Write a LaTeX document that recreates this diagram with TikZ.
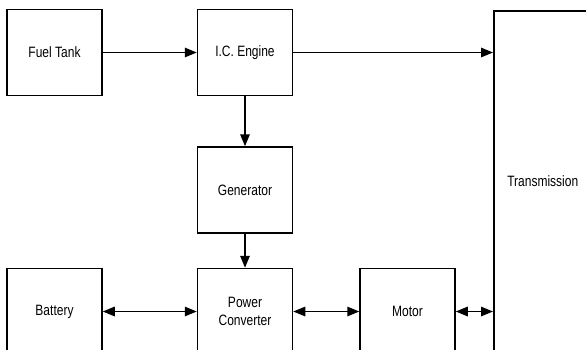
\documentclass[tikz,border=0pt]{standalone}
\usepackage{fontspec}
\setmainfont{Liberation Sans}[FakeStretch=0.8]
\usetikzlibrary{arrows.meta,positioning}

\begin{document}
\begin{tikzpicture}[
x=1pt, y=-1pt,
node distance=94pt,
block/.style={draw, line width=1.5pt, minimum width=95pt, minimum height=86pt, inner sep=2pt, align=center, font=\fontsize{15}{18}\selectfont},
arrow/.style={-{Triangle[length=12pt, width=9.5pt]}, line width=1.5pt},
dblarrow/.style={{Triangle[length=12pt, width=9.5pt]}-{Triangle[length=12pt, width=9.5pt]}, line width=1.5pt}
]
\clip (0,0) rectangle (586,349);
\node[block] (fuel) at (54.5,52.5) {Fuel Tank};
\node[block, right=of fuel] (engine) {I.C. Engine};
\node[block, below=50pt of engine] (gen) {Generator};
\node[block, below=34pt of gen] (conv) {Power\\Converter};
\node[block, left=of conv] (batt) {Battery};
\node[block, right=66pt of conv] (motor) {Motor};
\node[block, minimum width=98pt, minimum height=340pt, anchor=north west] (trans) at (493,10) {Transmission};
\draw[arrow] (fuel) -- (engine);
\draw[arrow] (engine.east) -- (engine.east -| trans.west);
\draw[arrow] (engine) -- (gen);
\draw[arrow] (gen) -- (conv);
\draw[dblarrow] (batt) -- (conv);
\draw[dblarrow] (conv) -- (motor);
\draw[dblarrow] (motor.east) -- (motor.east -| trans.west);
\end{tikzpicture}
\end{document}
